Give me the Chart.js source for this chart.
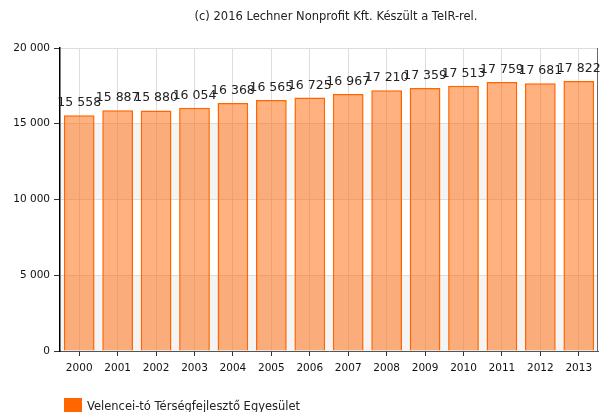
<!DOCTYPE html>
<html>
<head>
<meta charset="utf-8">
<script src="https://cdn.jsdelivr.net/npm/chart.js@4"></script>
<style>
  html,body{margin:0;padding:0;background:#fff;}
  #wrap{width:600px;height:412px;position:relative;}
</style>
</head>
<body>
<div id="wrap"><canvas id="chart"></canvas></div>
<script>
// adatok
const YEARS = ["2000","2001","2002","2003","2004","2005","2006","2007","2008","2009","2010","2011","2012","2013"];
const VALUES = [15558,15887,15880,16054,16368,16565,16725,16967,17210,17359,17513,17759,17681,17822];
const SERIES_NAME = "Velencei-tó Térségfejlesztő Egyesület";
const TITLE = "(c) 2016 Lechner Nonprofit Kft. Készült a TeIR-rel.";
const Y_MAX = 20000, Y_STEP = 5000;

const FONT = "DejaVu Sans";
const fmtHu = v => String(Math.round(v)).replace(/\B(?=(\d{3})+(?!\d))/g, " ");

// sávos háttér, keret, értékcímkék, cím, jelmagyarázat
const decor = {
  id: "decor",
  beforeDraw(chart){
    const {ctx, chartArea:a, scales:{y}} = chart;
    ctx.save();
    for(let v=0; v<Y_MAX; v+=Y_STEP){
      if((v/Y_STEP)%2!==0) continue;
      const top = y.getPixelForValue(v+Y_STEP), bot = y.getPixelForValue(v);
      ctx.fillStyle = "#f4f4f4";
      ctx.fillRect(a.left, top, a.right-a.left, bot-top);
    }
    ctx.restore();
  },
  afterDraw(chart){
    const {ctx, chartArea:a} = chart;
    ctx.save();
    // jobb oldali keret
    ctx.strokeStyle = "#666";
    ctx.lineWidth = 1;
    ctx.beginPath();
    ctx.moveTo(a.right-0.5, a.top); ctx.lineTo(a.right-0.5, a.bottom);
    ctx.stroke();

    // értékek az oszlopok fölött
    const meta = chart.getDatasetMeta(0);
    ctx.fillStyle = "#222";
    ctx.font = "12.5px '"+FONT+"'";
    ctx.textAlign = "center";
    ctx.textBaseline = "alphabetic";
    meta.data.forEach((bar,i)=>{
      ctx.fillText(fmtHu(VALUES[i]), bar.x, bar.y-9);
    });

    // cím
    ctx.font = "11.5px '"+FONT+"'";
    ctx.fillStyle = "#222";
    ctx.fillText(TITLE, 336, 20);

    // jelmagyarázat
    ctx.fillStyle = "#FF6600";
    ctx.fillRect(64, 398, 18, 14);
    ctx.fillStyle = "#222";
    ctx.textAlign = "left";
    ctx.fillText(SERIES_NAME, 87, 410);
    ctx.restore();
  }
};

new Chart(document.getElementById("chart"), {
  type: "bar",
  data: {
    labels: YEARS,
    datasets: [{
      label: SERIES_NAME,
      data: VALUES,
      backgroundColor: "rgba(255,102,0,0.5)",
      borderColor: "#FF6600",
      borderWidth: {top:1.5, left:1.5, right:1.5, bottom:0},
      borderSkipped: "bottom",
      barPercentage: 0.8,
      categoryPercentage: 1.0
    }]
  },
  options: {
    responsive: true,
    maintainAspectRatio: false,
    animation: false,
    devicePixelRatio: 1,
    layout: { padding: {top:48, right:2, bottom:25, left:0} },
    plugins: {
      legend: {display:false},
      title: {display:false},
      tooltip: {enabled:false}
    },
    scales: {
      x: {
        grid: {offset:false, color:"#dddddd", tickColor:"#333", tickLength:5},
        border: {color:"#555", width:1},
        ticks: {color:"#111", font:{family:FONT, size:10.5}, padding:6, maxRotation:0},
        afterFit(s){ s.height = 36; }
      },
      y: {
        min: 0, max: Y_MAX,
        grid: {color:"#dddddd", tickColor:"#333", tickLength:6},
        border: {color:"#000", width:1.5},
        ticks: {stepSize:Y_STEP, color:"#111", font:{family:FONT, size:10.5}, padding:4, callback: v => fmtHu(v)},
        afterFit(s){ s.width = 60; }
      }
    }
  },
  plugins: [decor]
});
</script>
</body>
</html>
